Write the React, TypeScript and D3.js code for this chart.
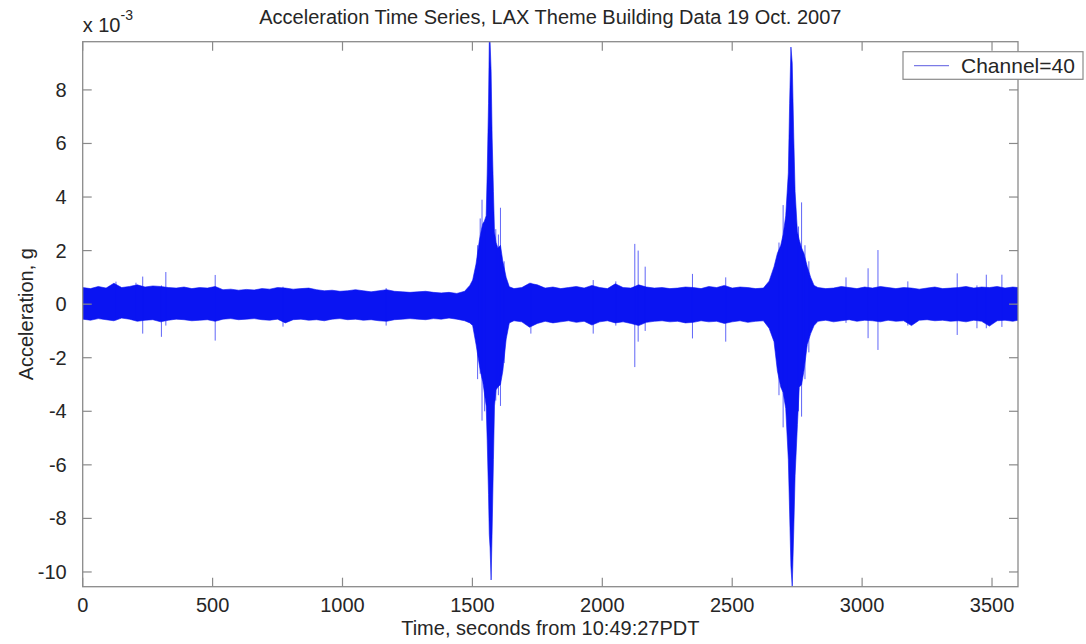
import React from 'react';
import * as d3 from 'd3';

// envelope of the record, in units of 1e-3 g
const envTime = [
  0, 30, 60, 90, 120, 150, 180, 210, 240, 270, 300, 330, 360, 390, 420, 450, 480, 510, 540, 570,
  600, 630, 660, 690, 720, 750, 780, 810, 840, 870, 900, 930, 960, 990, 1020, 1050, 1080, 1110, 1140, 1170,
  1200, 1230, 1260, 1290, 1320, 1350, 1380, 1410, 1440, 1470,
  1490, 1501, 1514, 1527, 1535, 1540, 1546, 1553, 1557, 1562, 1565, 1568, 1572, 1576, 1581, 1585, 1591, 1598,
  1608, 1617, 1630, 1642,
  1660, 1690, 1720, 1750, 1780, 1810, 1840, 1870, 1900, 1930, 1960, 1990, 2020, 2050, 2080, 2110, 2140, 2170,
  2200, 2230, 2260, 2290, 2320, 2350, 2380, 2410, 2440, 2470, 2500, 2530, 2560, 2590, 2620,
  2642, 2661, 2674, 2687, 2696, 2706, 2716, 2721, 2726, 2731, 2737, 2742, 2751, 2758, 2767, 2776, 2789, 2802, 2815,
  2830, 2860, 2890, 2920, 2950, 2980, 3010, 3040, 3070, 3100, 3130, 3160, 3190, 3220, 3250, 3280, 3310, 3340,
  3370, 3400, 3430, 3460, 3490, 3520, 3550, 3580, 3600,
];
const envHigh = [
  0.62, 0.58, 0.66, 0.6, 0.78, 0.62, 0.66, 0.72, 0.64, 0.68, 0.66, 0.62, 0.6, 0.64, 0.58, 0.62, 0.6, 0.66, 0.54, 0.56,
  0.52, 0.55, 0.53, 0.58, 0.56, 0.62, 0.6, 0.56, 0.58, 0.6, 0.54, 0.5, 0.52, 0.48, 0.5, 0.54, 0.5, 0.46, 0.5, 0.54,
  0.48, 0.46, 0.44, 0.46, 0.48, 0.44, 0.42, 0.44, 0.4, 0.48,
  0.7, 0.9, 1.5, 2.4, 2.8, 3.0, 3.1, 3.3, 4.9, 7.5, 9.8, 9.8, 8.7, 6.2, 4.2, 2.7, 2.3, 2.1,
  2.2, 1.6, 1.0, 0.65,
  0.58, 0.62, 0.78, 0.72, 0.6, 0.64, 0.58, 0.62, 0.66, 0.6, 0.7, 0.62, 0.58, 0.76, 0.62, 0.6, 0.72, 0.64,
  0.6, 0.62, 0.58, 0.6, 0.64, 0.62, 0.58, 0.66, 0.62, 0.7, 0.6, 0.64, 0.62, 0.58, 0.6,
  0.86, 1.4, 1.9, 2.2, 2.6, 3.3, 4.9, 7.5, 9.6, 9.0, 6.2, 4.2, 2.7, 2.4, 2.1, 1.9, 1.4, 1.0, 0.7,
  0.62, 0.58, 0.6, 0.66, 0.62, 0.58, 0.64, 0.6, 0.66, 0.62, 0.58, 0.62, 0.6, 0.56, 0.6, 0.64, 0.58, 0.6,
  0.62, 0.66, 0.6, 0.64, 0.62, 0.66, 0.6, 0.64, 0.62,
];
const envLow = [
  -0.56, -0.6, -0.54, -0.58, -0.62, -0.52, -0.56, -0.64, -0.6, -0.58, -0.66, -0.6, -0.56, -0.58, -0.62, -0.6, -0.58, -0.64, -0.56, -0.54,
  -0.58, -0.56, -0.54, -0.58, -0.6, -0.56, -0.7, -0.58, -0.56, -0.6, -0.58, -0.62, -0.56, -0.54, -0.58, -0.56, -0.6, -0.58, -0.62, -0.64,
  -0.58, -0.56, -0.54, -0.56, -0.58, -0.54, -0.56, -0.52, -0.56, -0.62,
  -0.7, -0.8, -1.5, -2.3, -2.7, -2.9, -3.3, -3.8, -5.1, -7.1, -8.6, -9.1, -10.3, -8.4, -5.8, -3.8, -3.2, -3.1,
  -3.0, -2.5, -1.3, -0.7,
  -0.62, -0.66, -0.86, -0.72, -0.64, -0.7, -0.66, -0.62, -0.68, -0.64, -0.78, -0.66, -0.62, -0.7, -0.66, -0.72, -0.8, -0.68,
  -0.64, -0.62, -0.66, -0.64, -0.7, -0.68, -0.62, -0.66, -0.64, -0.72, -0.66, -0.62, -0.68, -0.64, -0.62,
  -0.9, -1.4, -2.5, -3.1, -3.3, -3.9, -5.8, -7.8, -9.8, -10.55, -8.4, -6.4, -4.5, -3.1, -3.0, -2.5, -1.5, -1.1, -0.8,
  -0.64, -0.6, -0.66, -0.62, -0.58, -0.64, -0.6, -0.62, -0.66, -0.6, -0.64, -0.62, -0.8, -0.6, -0.58, -0.62, -0.6, -0.64,
  -0.62, -0.66, -0.6, -0.64, -0.82, -0.62, -0.6, -0.64, -0.6,
];

// isolated spikes sticking out of the band
const spikeTime = [128, 205, 231, 303, 320, 510, 771, 1168, 1520, 1530, 1537, 1547, 1590, 1600, 1608, 1622,
  1725, 1965, 2052, 2125, 2138, 2165, 2347, 2475, 2680, 2696, 2710, 2755, 2767, 2780, 2795,
  2938, 3023, 3061, 3176, 3366, 3442, 3478, 3538];
const spikeHigh = [0.84, 0.8, 1.03, 0.7, 1.2, 1.09, 0.65, 0.6, 2.2, 3.2, 3.9, 2.8, 2.8, 2.6, 3.6, 1.6,
  0.8, 0.9, 0.85, 2.25, 2.0, 1.4, 1.13, 1.0, 2.3, 3.7, 3.4, 2.9, 3.8, 2.2, 1.6,
  1.0, 1.34, 2.02, 0.85, 1.15, 0.7, 1.1, 1.1];
const spikeLow = [-0.6, -0.6, -1.1, -1.22, -0.8, -1.36, -0.84, -0.8, -2.8, -2.6, -4.35, -4.0, -3.6, -3.4, -3.8, -2.2,
  -1.1, -1.1, -0.8, -2.35, -1.4, -1.0, -1.28, -1.4, -3.4, -4.6, -4.1, -4.0, -4.2, -2.8, -1.8,
  -0.7, -1.27, -1.71, -0.8, -1.15, -0.9, -0.9, -0.85];

const xTicks = [0, 500, 1000, 1500, 2000, 2500, 3000, 3500];
const yTicks = [-10, -8, -6, -4, -2, 0, 2, 4, 6, 8];

const W = 1086;
const H = 644;
const left = 82.7, right = 1018, top = 41.7, bottom = 586.7;
const font = '"Liberation Sans", Arial, Helvetica, sans-serif';
const txt = '#262626';
const axisCol = '#8a8a8a';
const blue = '#0a14f2';
const fs = 20;

const App = () => {
  const x = d3.scaleLinear().domain([0, 3600]).range([left, right]);
  const y = d3.scaleLinear().domain([-10.55, 9.8]).range([bottom, top]);

  const band = d3.area<number>()
    .x(i => x(envTime[i]))
    .y0(i => y(envLow[i]))
    .y1(i => y(envHigh[i]));
  const idx = d3.range(envTime.length);

  const tl = 9;

  return (
    <svg width={W} height={H} style={{ position: 'absolute', left: 0, top: 0, background: '#fff' }}
      fontFamily={font}>
      <defs>
        <clipPath id="plotclip">
          <rect x={left} y={top} width={right - left} height={bottom - top} />
        </clipPath>
      </defs>

      <g clipPath="url(#plotclip)">
        <path d={band(idx) || ''} fill={blue} stroke={blue} strokeWidth={0.6} />
        {spikeTime.map((t, i) => (
          <line key={i} x1={x(t)} x2={x(t)} y1={y(spikeHigh[i])} y2={y(spikeLow[i])}
            stroke={blue} strokeWidth={1} strokeOpacity={0.65} />
        ))}
      </g>

      {/* box */}
      <rect x={left} y={top} width={right - left} height={bottom - top} fill="none" stroke={axisCol} strokeWidth={1.3} />

      {xTicks.map(t => (
        <g key={'x' + t}>
          <line x1={x(t)} x2={x(t)} y1={bottom} y2={bottom - tl} stroke={axisCol} strokeWidth={1.2} />
          <line x1={x(t)} x2={x(t)} y1={top} y2={top + tl} stroke={axisCol} strokeWidth={1.2} />
          <text x={x(t)} y={bottom + 25} textAnchor="middle" fontSize={fs} fill={txt}>{t}</text>
        </g>
      ))}
      {yTicks.map(v => (
        <g key={'y' + v}>
          <line x1={left} x2={left + tl} y1={y(v)} y2={y(v)} stroke={axisCol} strokeWidth={1.2} />
          <line x1={right} x2={right - tl} y1={y(v)} y2={y(v)} stroke={axisCol} strokeWidth={1.2} />
          <text x={left - 16} y={y(v) + 7} textAnchor="end" fontSize={fs} fill={txt}>{v}</text>
        </g>
      ))}

      <text x={left} y={32} fontSize={fs} fill={txt}>x 10<tspan dy={-12} fontSize={14}>-3</tspan></text>

      <text x={(left + right) / 2} y={24} textAnchor="middle" fontSize={fs} fill={txt}>
        Acceleration Time Series, LAX Theme Building Data 19 Oct. 2007
      </text>
      <text x={(left + right) / 2} y={635} textAnchor="middle" fontSize={fs} fill={txt}>
        Time, seconds from 10:49:27PDT
      </text>
      <text transform={`translate(33, ${(top + bottom) / 2}) rotate(-90)`} textAnchor="middle" fontSize={fs} fill={txt}>
        Acceleration, g
      </text>

      {/* legend */}
      <rect x={903} y={51.7} width={180} height={27.6} fill="#fff" stroke={axisCol} strokeWidth={1.2} />
      <line x1={914} x2={949} y1={65.7} y2={65.7} stroke="#7b7be6" strokeWidth={1.2} />
      <text x={961} y={73} fontSize={21} fill={txt}>Channel=40</text>
    </svg>
  );
};

export default App;
